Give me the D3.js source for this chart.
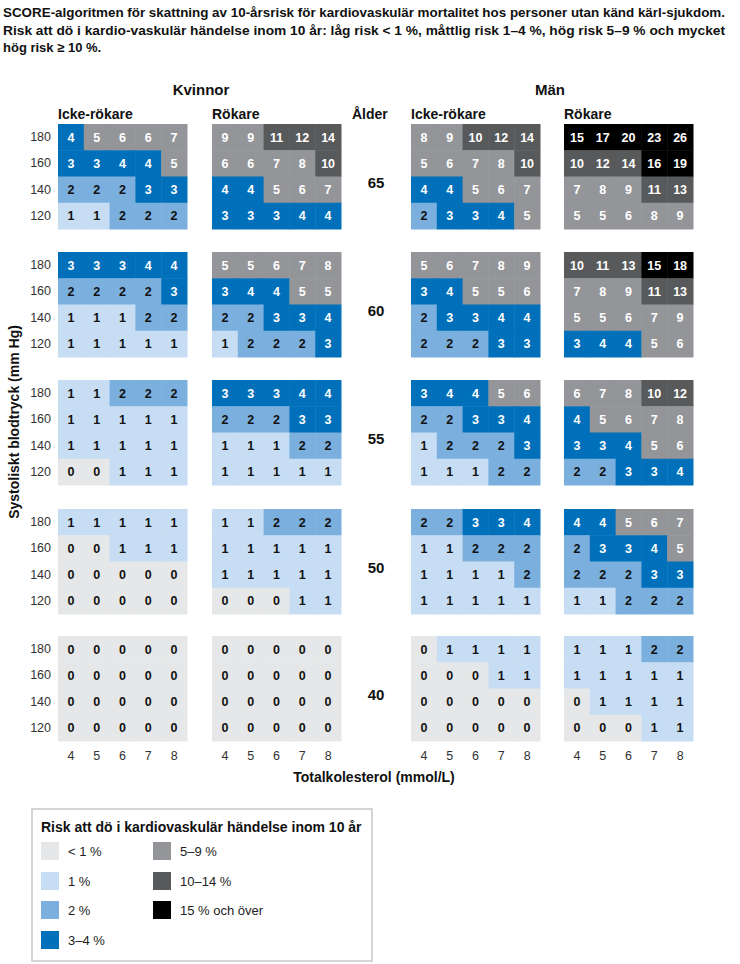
<!DOCTYPE html>
<html><head><meta charset="utf-8">
<script src="https://cdn.jsdelivr.net/npm/d3@7"></script>
<style>
html,body{margin:0;padding:0;background:#fff;}
svg{display:block;font-family:"Liberation Sans",Arial,Helvetica,sans-serif;}
</style></head>
<body>
<svg id="chart" width="740" height="964"></svg>
<script>
// ---- data ----
const titleLines = [
  "SCORE-algoritmen för skattning av 10-årsrisk för kardiovaskulär mortalitet hos personer utan känd kärl-sjukdom.",
  "Risk att dö i kardio-vaskulär händelse inom 10 år: låg risk < 1 %, måttlig risk 1–4 %, hög risk 5–9 % och mycket",
  "hög risk ≥ 10 %."
];
const cholesterol = [4, 5, 6, 7, 8];
const systolic = [180, 160, 140, 120];
const ages = [65, 60, 55, 50, 40];
const sexes = ["Kvinnor", "Män"];
const smokingGroups = ["Icke-rökare", "Rökare"];

// rows: 180,160,140,120 ; cols: chol 4..8
const womenNonSmoker = {
  65: [[4,5,6,6,7],[3,3,4,4,5],[2,2,2,3,3],[1,1,2,2,2]],
  60: [[3,3,3,4,4],[2,2,2,2,3],[1,1,1,2,2],[1,1,1,1,1]],
  55: [[1,1,2,2,2],[1,1,1,1,1],[1,1,1,1,1],[0,0,1,1,1]],
  50: [[1,1,1,1,1],[0,0,1,1,1],[0,0,0,0,0],[0,0,0,0,0]],
  40: [[0,0,0,0,0],[0,0,0,0,0],[0,0,0,0,0],[0,0,0,0,0]]
};
const womenSmoker = {
  65: [[9,9,11,12,14],[6,6,7,8,10],[4,4,5,6,7],[3,3,3,4,4]],
  60: [[5,5,6,7,8],[3,4,4,5,5],[2,2,3,3,4],[1,2,2,2,3]],
  55: [[3,3,3,4,4],[2,2,2,3,3],[1,1,1,2,2],[1,1,1,1,1]],
  50: [[1,1,2,2,2],[1,1,1,1,1],[1,1,1,1,1],[0,0,0,1,1]],
  40: [[0,0,0,0,0],[0,0,0,0,0],[0,0,0,0,0],[0,0,0,0,0]]
};
const menNonSmoker = {
  65: [[8,9,10,12,14],[5,6,7,8,10],[4,4,5,6,7],[2,3,3,4,5]],
  60: [[5,6,7,8,9],[3,4,5,5,6],[2,3,3,4,4],[2,2,2,3,3]],
  55: [[3,4,4,5,6],[2,2,3,3,4],[1,2,2,2,3],[1,1,1,2,2]],
  50: [[2,2,3,3,4],[1,1,2,2,2],[1,1,1,1,2],[1,1,1,1,1]],
  40: [[0,1,1,1,1],[0,0,0,1,1],[0,0,0,0,0],[0,0,0,0,0]]
};
const menSmoker = {
  65: [[15,17,20,23,26],[10,12,14,16,19],[7,8,9,11,13],[5,5,6,8,9]],
  60: [[10,11,13,15,18],[7,8,9,11,13],[5,5,6,7,9],[3,4,4,5,6]],
  55: [[6,7,8,10,12],[4,5,6,7,8],[3,3,4,5,6],[2,2,3,3,4]],
  50: [[4,4,5,6,7],[2,3,3,4,5],[2,2,2,3,3],[1,1,2,2,2]],
  40: [[1,1,1,2,2],[1,1,1,1,1],[0,1,1,1,1],[0,0,0,1,1]]
};
const riskThresholds = [1, 2, 3, 5, 10, 15];
const riskLabels = ["< 1 %", "1 %", "2 %", "3–4 %", "5–9 %", "10–14 %", "15 % och över"];
const riskColors = ["#e6e7e8", "#c6ddf3", "#7aafde", "#0070bb", "#939598", "#58595b", "#000000"];
const legendTitle = "Risk att dö i kardiovaskulär händelse inom 10 år";

// ---- layout ----
const svg = d3.select("#chart");
const panels = [
  {sex: 0, smoke: 0, data: womenNonSmoker},
  {sex: 0, smoke: 1, data: womenSmoker},
  {sex: 1, smoke: 0, data: menNonSmoker},
  {sex: 1, smoke: 1, data: menSmoker}
];
const panelX = [58, 212, 411, 564];
const panelW = 129, panelH = 105;
const ageY = d3.scaleOrdinal().domain(ages).range([124, 252, 380, 509, 636]);

const xCell = d3.scaleBand().domain(cholesterol).range([0, panelW]).padding(0);
const yCell = d3.scaleBand().domain(systolic).range([0, panelH]).padding(0);
const colorScale = d3.scaleThreshold().domain(riskThresholds).range(riskColors);
const textColor = v => v >= 3 ? "#ffffff" : "#111111";

// title
svg.append("g").selectAll("text").data(titleLines).join("text")
  .attr("x", 3).attr("y", (d, i) => 17 + i * 17.5)
  .attr("font-size", 13).attr("font-weight", "bold").attr("fill", "#111")
  .attr("textLength", (d, i) => i < 2 ? 722 : null)
  .attr("lengthAdjust", "spacingAndGlyphs")
  .text(d => d);

// sex headers
svg.selectAll("text.sex").data(sexes).join("text").attr("class", "sex")
  .attr("x", (d, i) => i === 0 ? 201 : 550).attr("y", 95)
  .attr("text-anchor", "middle").attr("font-size", 15).attr("font-weight", "bold").attr("fill", "#111")
  .text(d => d);

// smoking headers
panels.forEach((p, pi) => {
  svg.append("text").attr("x", panelX[pi]).attr("y", 119)
    .attr("font-size", 14).attr("font-weight", "bold").attr("fill", "#111")
    .text(smokingGroups[p.smoke]);
});
svg.append("text").attr("x", 352).attr("y", 119)
  .attr("font-size", 14).attr("font-weight", "bold").attr("fill", "#111").text("Ålder");

// age labels
svg.selectAll("text.age").data(ages).join("text").attr("class", "age")
  .attr("x", 376).attr("y", d => ageY(d) + panelH / 2 + 11)
  .attr("text-anchor", "middle").attr("font-size", 15).attr("font-weight", "bold").attr("fill", "#111")
  .text(d => d);

// panels
panels.forEach((p, pi) => {
  ages.forEach(age => {
    const g = svg.append("g").attr("transform", `translate(${panelX[pi]},${ageY(age)})`);
    const cells = [];
    p.data[age].forEach((row, ri) => row.forEach((v, ci) => cells.push({sbp: systolic[ri], chol: cholesterol[ci], v})));
    g.selectAll("rect").data(cells).join("rect")
      .attr("x", d => xCell(d.chol)).attr("y", d => yCell(d.sbp))
      .attr("width", xCell.bandwidth() + 0.5).attr("height", yCell.bandwidth() + 0.5)
      .attr("fill", d => colorScale(d.v));
    g.selectAll("text").data(cells).join("text")
      .attr("x", d => xCell(d.chol) + xCell.bandwidth() / 2)
      .attr("y", d => yCell(d.sbp) + yCell.bandwidth() / 2 + 4.5)
      .attr("text-anchor", "middle").attr("font-size", 12.5).attr("font-weight", "bold")
      .attr("fill", d => textColor(d.v))
      .text(d => d.v);
    if (pi === 0) {
      const ya = g.append("g").style("color", "#333").call(d3.axisLeft(yCell).tickSize(0).tickPadding(7));
      ya.select(".domain").remove();
      ya.selectAll("text").attr("font-size", 12.5).style("fill", "#333").attr("font-family", null);
    }
    if (age === 40) {
      const xa = g.append("g").style("color", "#333").attr("transform", `translate(0,${panelH})`)
        .call(d3.axisBottom(xCell).tickSize(0).tickPadding(10));
      xa.select(".domain").remove();
      xa.selectAll("text").attr("font-size", 12.5).style("fill", "#333").attr("font-family", null);
    }
  });
});

// axis titles
svg.append("text").attr("transform", "translate(19,422) rotate(-90)")
  .attr("text-anchor", "middle").attr("font-size", 14).attr("font-weight", "bold").attr("fill", "#111")
  .text("Systoliskt blodtryck (mm Hg)");
svg.append("text").attr("x", 374).attr("y", 782)
  .attr("text-anchor", "middle").attr("font-size", 14).attr("font-weight", "bold").attr("fill", "#111")
  .text("Totalkolesterol (mmol/L)");

// legend
const lg = svg.append("g");
lg.append("rect").attr("x", 32).attr("y", 809).attr("width", 340).attr("height", 152)
  .attr("fill", "#fff").attr("stroke", "#c8c8c8").attr("stroke-width", 1.5);
lg.append("text").attr("x", 41).attr("y", 832).attr("font-size", 14).attr("font-weight", "bold").attr("fill", "#111")
  .text(legendTitle);
const legendItems = riskLabels.map((l, i) => ({label: l, color: riskColors[i],
  col: i < 4 ? 0 : 1, row: i < 4 ? i : i - 4}));
const rowY = [842, 872, 901, 931];
const colX = [41, 153];
const li = lg.selectAll("g.li").data(legendItems).join("g").attr("class", "li")
  .attr("transform", d => `translate(${colX[d.col]},${rowY[d.row]})`);
li.append("rect").attr("width", 18).attr("height", 18).attr("fill", d => d.color);
li.append("text").attr("x", 27).attr("y", 14).attr("font-size", 13).attr("fill", "#222").text(d => d.label);
</script>
</body></html>
